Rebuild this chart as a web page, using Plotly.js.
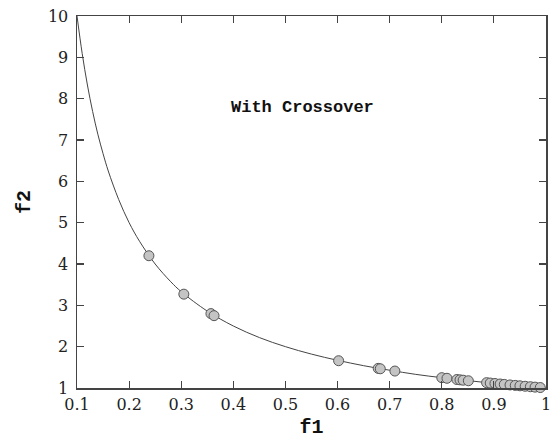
<!DOCTYPE html>
<html>
<head>
<meta charset="utf-8">
<script src="https://cdn.plot.ly/plotly-3.0.1.min.js"></script>
<style>
  html, body { margin: 0; padding: 0; background: #fff; }
  #chart { width: 552px; height: 441px; }
</style>
</head>
<body>
<div id="chart"></div>
<script>
// Pareto front curve (f2 against f1)
const frontF1 = [0.1, 0.11, 0.12, 0.13, 0.14, 0.15, 0.16, 0.18, 0.2, 0.22, 0.25, 0.28, 0.3,
                 0.35, 0.4, 0.45, 0.5, 0.55, 0.6, 0.65, 0.7, 0.75, 0.8, 0.85, 0.9, 0.95, 1.0];
const frontF2 = [10, 9.09, 8.33, 7.69, 7.14, 6.67, 6.25, 5.56, 5.0, 4.55, 4.0, 3.57, 3.33,
                 2.86, 2.5, 2.22, 2.0, 1.82, 1.67, 1.54, 1.43, 1.33, 1.25, 1.18, 1.11, 1.05, 1.0];

// Solutions found by the run with crossover
const solF1 = [0.238, 0.305, 0.357, 0.363, 0.602, 0.678, 0.682, 0.710,
               0.800, 0.810, 0.829, 0.835, 0.841, 0.851, 0.886, 0.893, 0.902, 0.912,
               0.920, 0.931, 0.941, 0.950, 0.960, 0.970, 0.979, 0.989];
const solF2 = [4.20, 3.27, 2.80, 2.75, 1.66, 1.475, 1.465, 1.41,
               1.25, 1.235, 1.205, 1.197, 1.189, 1.175, 1.129, 1.12, 1.109, 1.097,
               1.087, 1.074, 1.063, 1.053, 1.042, 1.031, 1.021, 1.011];

const xTicks = [0.1, 0.2, 0.3, 0.4, 0.5, 0.6, 0.7, 0.8, 0.9, 1];
const xTickText = ['0.1', '0.2', '0.3', '0.4', '0.5', '0.6', '0.7', '0.8', '0.9', '1'];
const yTicks = [1, 2, 3, 4, 5, 6, 7, 8, 9, 10];

const serif = 'DejaVu Serif';
const mono = 'Liberation Mono';

const traces = [
  {
    x: frontF1, y: frontF2, type: 'scatter', mode: 'lines',
    line: { color: '#444', width: 1, shape: 'spline', smoothing: 1 },
    hoverinfo: 'skip'
  },
  {
    x: solF1, y: solF2, type: 'scatter', mode: 'markers',
    marker: { size: 10, color: '#c4c4c4', line: { color: '#555', width: 1 } },
    cliponaxis: false
  }
];

function axis(extra) {
  return Object.assign({
    showgrid: false, zeroline: false,
    showline: true, linecolor: '#444', linewidth: 1.5, mirror: 'ticks',
    ticks: 'inside', ticklen: 7, tickcolor: '#444', tickwidth: 1.2,
    tickfont: { family: serif, size: 16, color: '#222' }
  }, extra);
}

const layout = {
  width: 552, height: 441,
  margin: { l: 77, r: 6, t: 16, b: 53 },
  paper_bgcolor: '#fff', plot_bgcolor: '#fff',
  font: { family: serif, size: 16, color: '#222' },
  showlegend: false,
  xaxis: axis({
    range: [0.1, 1], tickvals: xTicks, ticktext: xTickText,
    ticklabelstandoff: 1,
    title: { text: 'f1', standoff: 6,
             font: { family: mono, size: 20, color: '#111', weight: 'bold' } }
  }),
  yaxis: axis({
    range: [1, 10], tickvals: yTicks,
    ticklabelstandoff: 4,
    title: { text: 'f2', standoff: 12,
             font: { family: mono, size: 20, color: '#111', weight: 'bold' } }
  }),
  annotations: [{
    x: 0.532, y: 7.78, xref: 'x', yref: 'y', showarrow: false,
    text: 'With Crossover',
    font: { family: mono, size: 17, color: '#111', weight: 'bold' }
  }]
};

Plotly.newPlot('chart', traces, layout, { displayModeBar: false, staticPlot: true });
</script>
</body>
</html>
